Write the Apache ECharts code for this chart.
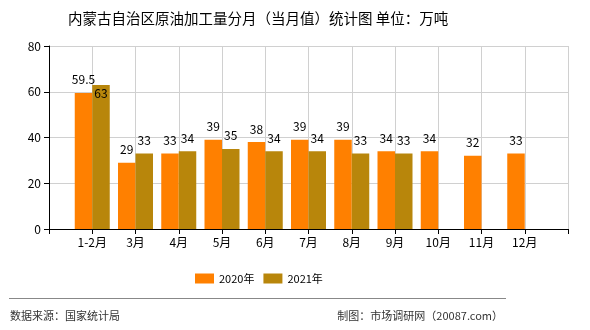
<!doctype html>
<html>
<head>
	<meta charset="UTF-8">
	<title>内蒙古自治区原油加工量分月（当月值）统计图</title>
	<script src="https://cdn.jsdelivr.net/npm/echarts@6/dist/echarts.min.js"></script>
	<style>
		html, body { margin: 0; padding: 0; background: #fff; }
		#main { width: 590px; height: 330px; }
	</style>
</head>
<body>
	<div id="main"></div>
	<script type="text/javascript">
		// 数据
		var months = ['1-2月', '3月', '4月', '5月', '6月', '7月', '8月', '9月', '10月', '11月', '12月'];
		var data2020 = [59.5, 29, 33, 39, 38, 39, 39, 34, 34, 32, 33];
		var data2021 = [63, 33, 34, 35, 34, 34, 33, 33, null, null, null];
		var yTicks = [0, 20, 40, 60, 80];

		var FONT = '"Noto Sans CJK SC", "DejaVu Sans", sans-serif';

		// 两端留一个空类目，让月份落在刻度上
		var axisData = [''].concat(months, ['']);
		var s2020 = [null].concat(data2020, [null]);
		var s2021 = [null].concat(data2021, [null]).map(function(v, i) {
			// 1-2月的标签画在柱内
			if (i === 1) {
				return { value: v, label: { position: 'insideTop', distance: 3 } };
			}
			return v;
		});

		var chart = echarts.init(document.getElementById('main'));
		chart.setOption({
			animation: false,
			textStyle: { fontFamily: FONT },
			title: {
				text: '内蒙古自治区原油加工量分月（当月值）统计图 单位：万吨',
				left: 63,
				top: 6,
				textStyle: { fontSize: 14.5, fontWeight: 'normal', color: '#000', fontFamily: FONT }
			},
			legend: {
				left: 190,
				top: 268,
				itemWidth: 19,
				itemHeight: 10,
				itemGap: 9,
				icon: 'rect',
				textStyle: { fontSize: 11, color: '#000', fontFamily: FONT },
				data: ['2020年', '2021年']
			},
			grid: { left: 49, right: 22, top: 46, bottom: 101 },
			xAxis: {
				type: 'category',
				data: axisData,
				boundaryGap: false,
				axisLine: { lineStyle: { color: '#000', width: 1 } },
				axisTick: { show: true, length: 5, lineStyle: { color: '#000' } },
				axisLabel: { color: '#000', fontSize: 12, margin: 7, interval: 0, fontFamily: FONT },
				splitLine: { show: true, lineStyle: { color: '#d0d0d0' } }
			},
			yAxis: {
				type: 'value',
				min: yTicks[0],
				max: yTicks[yTicks.length - 1],
				interval: 20,
				axisLine: { show: true, lineStyle: { color: '#000', width: 1 } },
				axisTick: { show: true, length: 5, lineStyle: { color: '#000' } },
				axisLabel: { color: '#000', fontSize: 12, margin: 8, fontFamily: FONT },
				splitLine: { show: true, lineStyle: { color: '#d0d0d0' } }
			},
			series: [{
				name: '2020年',
				type: 'bar',
				data: s2020,
				barWidth: 17.5,
				barGap: '0%',
				itemStyle: { color: '#FF8000' },
				label: { show: true, position: 'top', distance: 7, color: '#000', fontSize: 12, fontFamily: FONT }
			}, {
				name: '2021年',
				type: 'bar',
				data: s2021,
				barWidth: 17.5,
				barGap: '0%',
				itemStyle: { color: '#B8860B' },
				label: { show: true, position: 'top', distance: 7, color: '#000', fontSize: 12, fontFamily: FONT }
			}],
			graphic: [{
				type: 'line',
				shape: { x1: 9, y1: 298.5, x2: 506, y2: 298.5 },
				style: { stroke: '#888', lineWidth: 1 }
			}, {
				type: 'text',
				left: 10,
				top: 310,
				style: { text: '数据来源：国家统计局', fontSize: 11, fill: '#333', fontFamily: FONT }
			}, {
				type: 'text',
				right: 87,
				top: 310,
				style: { text: '制图：市场调研网（20087.com）', fontSize: 11, fill: '#333', fontFamily: FONT }
			}]
		});
	</script>
</body>
</html>
